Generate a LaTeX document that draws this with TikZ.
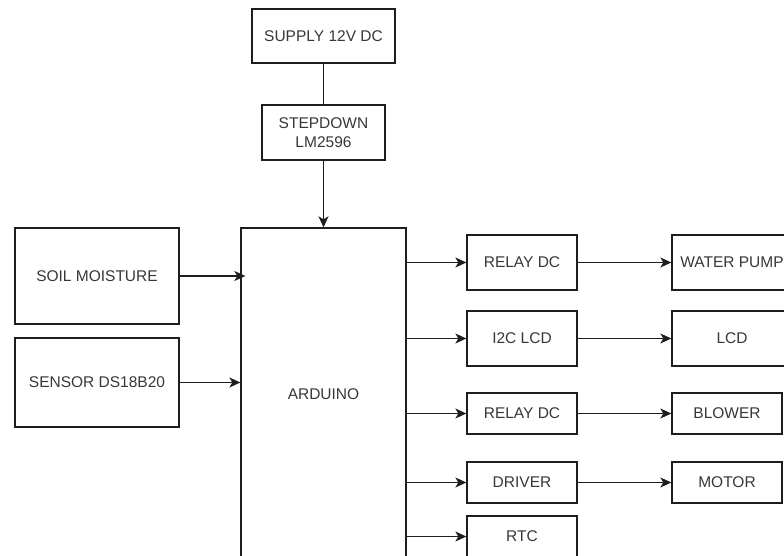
\documentclass[tikz,border=0pt]{standalone}
\usepackage{fontspec}
\setmainfont{Liberation Sans}
\usetikzlibrary{arrows.meta}
\definecolor{ln}{HTML}{1E1E1E}
\definecolor{tx}{HTML}{383838}
\tikzset{
  blk/.style={draw=ln, line width=1.3pt, rectangle, inner sep=0pt, align=center,
    text=tx, font=\fontsize{15.5}{19}\selectfont},
  conn/.style={draw=ln, line width=1.3pt},
  arr/.style={conn, -{Stealth[length=11pt,width=10pt,inset=3pt]}}
}
\begin{document}
\begin{tikzpicture}[x=1pt,y=-1pt]
\useasboundingbox (0,0) rectangle (784,556);
\clip (0,0) rectangle (784,556);
\fill[white] (0,0) rectangle (784,556);
% top
\node[blk, minimum width=143pt, minimum height=54pt] (supply) at (323.5,36) {SUPPLY 12V DC};
\node[blk, minimum width=123pt, minimum height=55pt] (step) at (323.5,132.5) {STEPDOWN\\LM2596};
\node[blk, minimum width=165pt, minimum height=332pt] (ardu) at (323.5,394) {ARDUINO};
% left
\node[blk, minimum width=164pt, minimum height=96pt] (soil) at (97,276) {SOIL MOISTURE};
\node[blk, minimum width=164pt, minimum height=89pt] (sens) at (97,382.5) {SENSOR DS18B20};
% right column 1
\node[blk, minimum width=110pt, minimum height=55pt] (rel1) at (522,262.5) {RELAY DC};
\node[blk, minimum width=110pt, minimum height=55pt] (i2c) at (522,338.5) {I2C LCD};
\node[blk, minimum width=110pt, minimum height=41pt] (rel2) at (522,413.5) {RELAY DC};
\node[blk, minimum width=110pt, minimum height=41pt] (drv) at (522,482.5) {DRIVER};
\node[blk, minimum width=110pt, minimum height=41pt] (rtc) at (522,536.5) {RTC};
% right column 2
\node[blk, minimum width=120pt, minimum height=55pt] (pump) at (732,262.5) {WATER PUMP};
\node[blk, minimum width=120pt, minimum height=55pt] (lcd) at (732,338.5) {LCD};
\node[blk, minimum width=110pt, minimum height=41pt] (blow) at (727,413.5) {BLOWER};
\node[blk, minimum width=110pt, minimum height=41pt] (mot) at (727,482.5) {MOTOR};
% connectors
\draw[conn] (supply.south) -- (step.north);
\draw[arr] (step.south) -- (ardu.north);
\draw[arr] (soil.east) -- ([xshift=5pt]soil.east -| ardu.west);
\draw[arr] (sens.east) -- (sens.east -| ardu.west);
\draw[arr] (rel1.west -| ardu.east) -- (rel1.west);
\draw[arr] (i2c.west -| ardu.east) -- (i2c.west);
\draw[arr] (rel2.west -| ardu.east) -- (rel2.west);
\draw[arr] (drv.west -| ardu.east) -- (drv.west);
\draw[arr] (rtc.west -| ardu.east) -- (rtc.west);
\draw[arr] (rel1.east) -- (pump.west);
\draw[arr] (i2c.east) -- (lcd.west);
\draw[arr] (rel2.east) -- (blow.west);
\draw[arr] (drv.east) -- (mot.west);
\end{tikzpicture}
\end{document}
